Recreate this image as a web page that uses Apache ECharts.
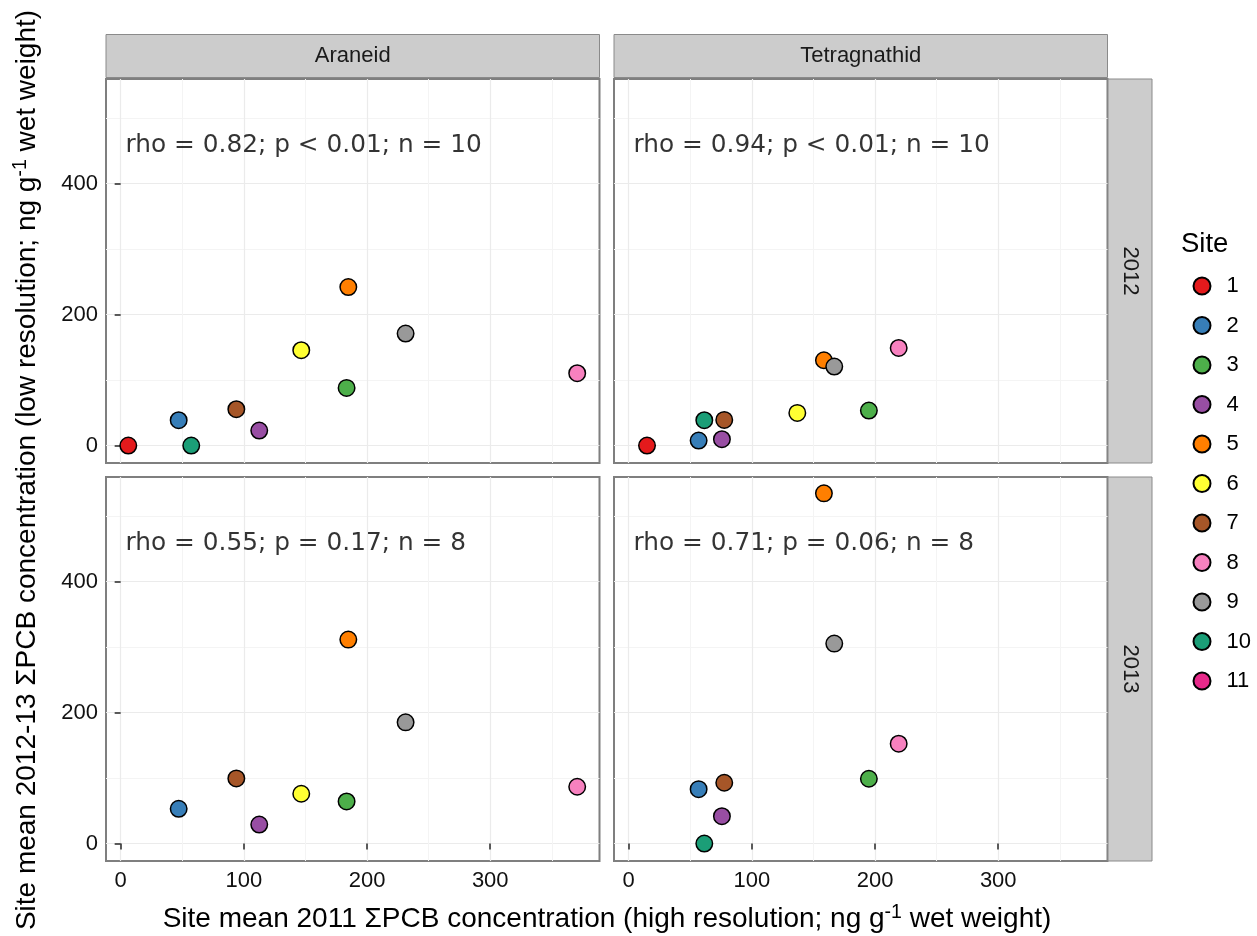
<!DOCTYPE html>
<html><head><meta charset="utf-8">
<script src="https://cdn.jsdelivr.net/npm/echarts@6/dist/echarts.min.js"></script>
<style>html,body{margin:0;padding:0;background:#fff}#c{width:1257px;height:936px}</style>
</head><body><div id="c"></div>
<script>
// ---- data ----
const sites = ['1','2','3','4','5','6','7','8','9','10','11'];
const siteColors = ['#E41A1C','#377EB8','#4DAF4A','#984EA3','#FF7F00','#FFFF33','#A65628','#F781BF','#999999','#1B9E77','#E7298A'];
const taxa = ['Araneid','Tetragnathid'];
const years = ['2012','2013'];
// x: site mean 2011 (high resolution), by taxon, indexed by site
const araneidX      = [6.2, 47.1, 183.4, 112.5, 184.8, 146.6, 93.9, 370.6, 231.3, 57.3, null];
const tetragnathidX = [14.9, 56.8, 195.0, 75.7, 158.5, 136.9, 77.6, 219.2, 166.9, 61.4, null];
// y: site mean 2012-13 (low resolution), indexed by site
const araneid2012Y      = [0, 38.6, 88.0, 22.9, 242.0, 145.5, 55.4, 110.4, 171.0, 0, null];
const tetragnathid2012Y = [0, 7.6, 53.4, 9.6, 130.2, 49.8, 39.1, 149.0, 120.6, 38.6, null];
const araneid2013Y      = [null, 53.0, 64.2, 29.0, 311.4, 76.0, 99.4, 86.7, 185.0, null, null];
const tetragnathid2013Y = [null, 83.0, 98.9, 41.7, 534.7, null, 92.8, 152.4, 305.3, 0, null];
const annotations = ['rho = 0.82; p < 0.01; n = 10', 'rho = 0.94; p < 0.01; n = 10',
                     'rho = 0.55; p = 0.17; n = 8', 'rho = 0.71; p = 0.06; n = 8'];
const annotationAt = [4, 458];
const xTicks = [0, 100, 200, 300];
const xMinor = [50, 150, 250, 350];
const yTicks = [0, 200, 400];
const yMinor = [100, 300, 500];

// ---- layout ----
const FONT = 'Liberation Sans, Arial, sans-serif';
const panelLeft = [106, 614], panelTop = [79, 477];
const PW = 493.5, PH = 384;
const XMIN = -11.9, XMAX = 388.7, YMIN = -26.7, YMAX = 559.7;

const panelX = [araneidX, tetragnathidX, araneidX, tetragnathidX];
const panelY = [araneid2012Y, tetragnathid2012Y, araneid2013Y, tetragnathid2013Y];

const grids = [], xAxes = [], yAxes = [], series = [];
for (let p = 0; p < 4; p++) {
  const row = Math.floor(p / 2), col = p % 2;
  grids.push({left: panelLeft[col], top: panelTop[row], width: PW, height: PH,
    show: true, backgroundColor: '#fff', borderColor: '#7F7F7F', borderWidth: 2, containLabel: false});
  const showX = row === 1, showY = col === 0;
  xAxes.push({type: 'value', gridIndex: p, min: XMIN, max: XMAX, position: 'bottom',
    axisLine: {show: false},
    axisTick: {show: showX, customValues: xTicks, length: 6, lineStyle: {color: '#333', width: 1.6}},
    axisLabel: {show: showX, customValues: xTicks, margin: 9, fontSize: 22, color: '#111', fontFamily: FONT},
    splitLine: {show: true, lineStyle: {color: '#EBEBEB', width: 1.2}}});
  xAxes.push({type: 'value', gridIndex: p, min: XMIN, max: XMAX, position: 'bottom',
    axisLine: {show: false}, axisTick: {show: false, customValues: xMinor},
    axisLabel: {show: false}, splitLine: {show: true, lineStyle: {color: '#F4F4F4', width: 1}}});
  yAxes.push({type: 'value', gridIndex: p, min: YMIN, max: YMAX, position: 'left',
    axisLine: {show: false},
    axisTick: {show: showY, customValues: yTicks, length: 6, lineStyle: {color: '#333', width: 1.6}},
    axisLabel: {show: showY, customValues: yTicks, margin: 8, fontSize: 22, color: '#111', fontFamily: FONT},
    splitLine: {show: true, lineStyle: {color: '#EBEBEB', width: 1.2}}});
  yAxes.push({type: 'value', gridIndex: p, min: YMIN, max: YMAX, position: 'left',
    axisLine: {show: false}, axisTick: {show: false, customValues: yMinor},
    axisLabel: {show: false}, splitLine: {show: true, lineStyle: {color: '#F4F4F4', width: 1}}});
  for (let s = 0; s < sites.length; s++) {
    const x = panelX[p][s], y = panelY[p][s];
    series.push({type: 'scatter', name: sites[s], xAxisIndex: 2 * p, yAxisIndex: 2 * p,
      data: (x != null && y != null) ? [[x, y]] : [],
      symbol: 'circle', symbolSize: 16.5,
      itemStyle: {color: siteColors[s], borderColor: '#000', borderWidth: 1.5, opacity: 1},
      emphasis: {disabled: true}, silent: true, z: 5});
  }
  series.push({type: 'scatter', name: 'ann' + p, xAxisIndex: 2 * p, yAxisIndex: 2 * p,
    data: [annotationAt], symbolSize: 0, silent: true, z: 6,
    itemStyle: {color: 'transparent'},
    label: {show: true, position: 'right', distance: 0, formatter: annotations[p],
      fontFamily: 'DejaVu Sans', fontSize: 24.8, color: '#000'}});
}

const graphic = [];
// top strips
for (let c = 0; c < 2; c++) {
  graphic.push({type: 'rect', shape: {x: panelLeft[c], y: 34.5, width: PW, height: 43},
    style: {fill: '#CCCCCC', stroke: '#8A8A8A', lineWidth: 1}, silent: true});
  graphic.push({type: 'text', x: panelLeft[c] + PW / 2, y: 56, silent: true,
    style: {text: taxa[c], fontSize: 22, fontFamily: FONT, fill: '#1A1A1A', align: 'center', verticalAlign: 'middle'}});
}
// right strips
for (let r = 0; r < 2; r++) {
  graphic.push({type: 'rect', shape: {x: 1108, y: panelTop[r], width: 44, height: PH},
    style: {fill: '#CCCCCC', stroke: '#8A8A8A', lineWidth: 1}, silent: true});
  graphic.push({type: 'text', x: 1130, y: panelTop[r] + PH / 2, rotation: -Math.PI / 2, silent: true,
    style: {text: years[r], fontSize: 22, fontFamily: FONT, fill: '#1A1A1A', align: 'center', verticalAlign: 'middle'}});
}
// axis titles
const titleRich = {
  n: {fontSize: 28, fontFamily: FONT, fill: '#000', lineHeight: 30, verticalAlign: 'bottom'},
  s: {fontSize: 19.5, fontFamily: FONT, fill: '#000', lineHeight: 30, verticalAlign: 'top'}
};
graphic.push({type: 'text', x: 607, y: 918, silent: true,
  style: {text: '{n|Site mean 2011 ΣPCB concentration (high resolution; ng g}{s|-1}{n| wet weight)}',
    rich: titleRich, align: 'center', verticalAlign: 'middle'}});
graphic.push({type: 'text', x: 26, y: 470, rotation: Math.PI / 2, silent: true,
  style: {text: '{n|Site mean 2012-13 ΣPCB concentration (low resolution; ng g}{s|-1}{n| wet weight)}',
    rich: titleRich, align: 'center', verticalAlign: 'middle'}});
// legend title
graphic.push({type: 'text', x: 1181, y: 244, silent: true,
  style: {text: 'Site', fontSize: 27.5, fontFamily: FONT, fill: '#000', align: 'left', verticalAlign: 'middle'}});

const chart = echarts.init(document.getElementById('c'), null, {renderer: 'canvas'});
chart.setOption({
  animation: false,
  backgroundColor: '#fff',
  textStyle: {fontFamily: FONT},
  grid: grids, xAxis: xAxes, yAxis: yAxes, series: series,
  legend: {data: sites, orient: 'vertical', left: 1187.5, top: 270, padding: 5, itemWidth: 17, itemHeight: 17,
    itemGap: 17.5, icon: 'circle', selectedMode: false,
    textStyle: {fontSize: 22, color: '#000', fontFamily: FONT, padding: [0, 0, 0, 11]}},
  graphic: graphic
});
</script></body></html>
